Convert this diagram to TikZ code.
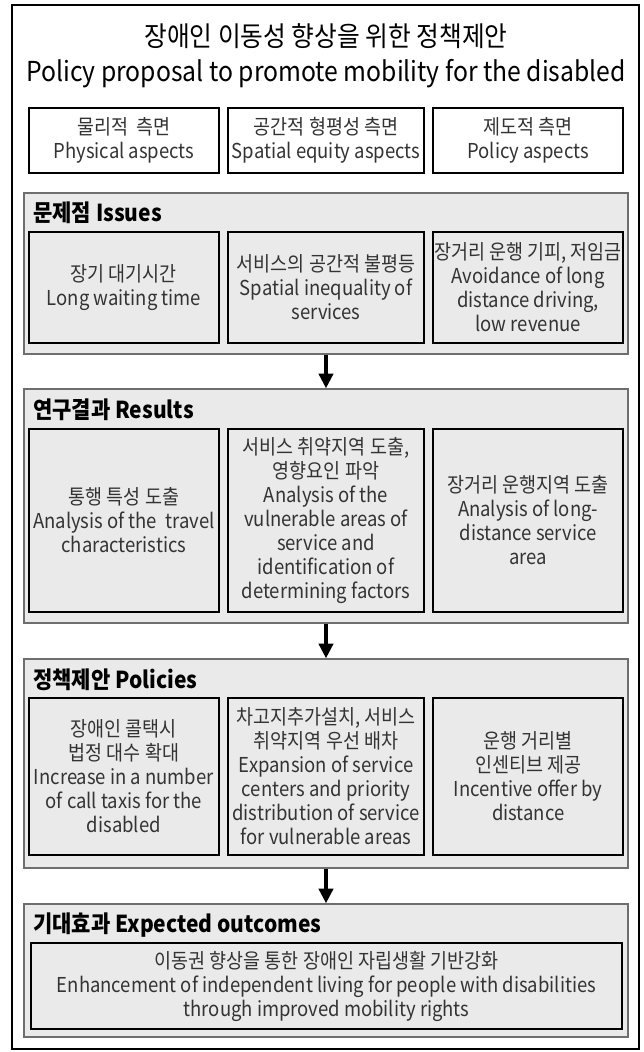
\documentclass[tikz,border=0pt]{standalone}
\usepackage{fontspec}
\setmainfont{Noto Sans CJK KR}[FakeStretch=0.9]
\usepackage{tikz}
\usetikzlibrary{arrows.meta,positioning}
\definecolor{cellbg}{HTML}{EAEAEB}
\definecolor{panelrule}{HTML}{6E6E6E}
\definecolor{txt}{HTML}{333333}

\begin{document}
\begin{tikzpicture}[
  x=0.75pt,y=-0.75pt,
  node distance=5.25pt,
  panel/.style={draw=panelrule,line width=0.9pt,fill=cellbg,inner sep=0pt,
                minimum width=453pt},
  cell/.style={draw=black,line width=1.6pt,fill=cellbg,inner sep=0pt,
               align=center,text=txt,font=\fontsize{15.4}{18}\selectfont},
  side/.style={cell,minimum width=142.5pt},
  mid/.style={cell,minimum width=147pt},
  head/.style={anchor=west,inner sep=0pt,font=\bfseries\fontsize{17.5}{20}\selectfont},
  arr/.style={-{Triangle[length=11pt,width=10.5pt]},line width=3pt}
]
\useasboundingbox (0,0) rectangle (643,1052);
\draw[line width=1pt] (12,5) rectangle (639,1049);
\node[align=center,font=\fontsize{20.6}{26.25}\selectfont] (title) at (326,55.5)
     {장애인 이동성 향상을 위한 정책제안\\Policy proposal to promote mobility for the disabled};

% aspects
\node[mid,fill=white,minimum height=48.75pt] (a2) at (326,140.5)
     {공간적 형평성 측면\\Spatial equity aspects};
\node[side,fill=white,minimum height=48.75pt,left=of a2] (a1)
     {물리적~~측면\\Physical aspects};
\node[side,fill=white,minimum height=48.75pt,right=of a2] (a3)
     {제도적 측면\\Policy aspects};

% issues
\node[panel,minimum height=120.75pt] (iss) at (326,273.5) {};
\node[head] at (33,213) {문제점 Issues};
\node[mid,minimum height=83.25pt] (i2) at (326,287.5)
     {서비스의 공간적 불평등\\Spatial inequality of\\services};
\node[side,minimum height=83.25pt,left=of i2] (i1)
     {장기 대기시간\\Long waiting time};
\node[side,minimum height=83.25pt,right=of i2] (i3)
     {장거리 운행 기피, 저임금\\Avoidance of long\\distance driving,\\low revenue};

% results
\node[panel,minimum height=175.5pt] (res) at (326,506) {};
\node[head] at (33,410) {연구결과 Results};
\node[mid,minimum height=137.25pt] (r2) at (326,520.5)
     {서비스 취약지역 도출,\\영향요인 파악\\Analysis of the\\vulnerable areas of\\service and\\identification of\\determining factors};
\node[side,minimum height=137.25pt,left=of r2] (r1)
     {통행 특성 도출\\Analysis of the~~travel\\characteristics};
\node[side,minimum height=137.25pt,right=of r2] (r3)
     {장거리 운행지역 도출\\Analysis of long-\\distance service\\area};

% policies
\node[panel,minimum height=156.75pt] (pol) at (326,763.5) {};
\node[head] at (33,680) {정책제안 Policies};
\node[mid,minimum height=117.75pt] (p2) at (326,776.5)
     {차고지추가설치, 서비스\\취약지역 우선 배차\\Expansion of service\\centers and priority\\distribution of service\\for vulnerable areas};
\node[side,minimum height=117.75pt,left=of p2] (p1)
     {장애인 콜택시\\법정 대수 확대\\Increase in a number\\of call taxis for the\\disabled};
\node[side,minimum height=117.75pt,right=of p2] (p3)
     {운행 거리별\\인센티브 제공\\Incentive offer by\\distance};

% outcomes
\node[panel,minimum height=99.75pt] (out) at (326,970.5) {};
\node[head] at (33,925) {기대효과 Expected outcomes};
\node[cell,minimum width=443.25pt,minimum height=64.5pt] (o1) at (326.5,986)
     {이동권 향상을 통한 장애인 자립생활 기반강화\\Enhancement of independent living for people with disabilities\\through improved mobility rights};

\draw[arr] (iss) -- (res);
\draw[arr] (res) -- (pol);
\draw[arr] (pol) -- (out);
\end{tikzpicture}
\end{document}
